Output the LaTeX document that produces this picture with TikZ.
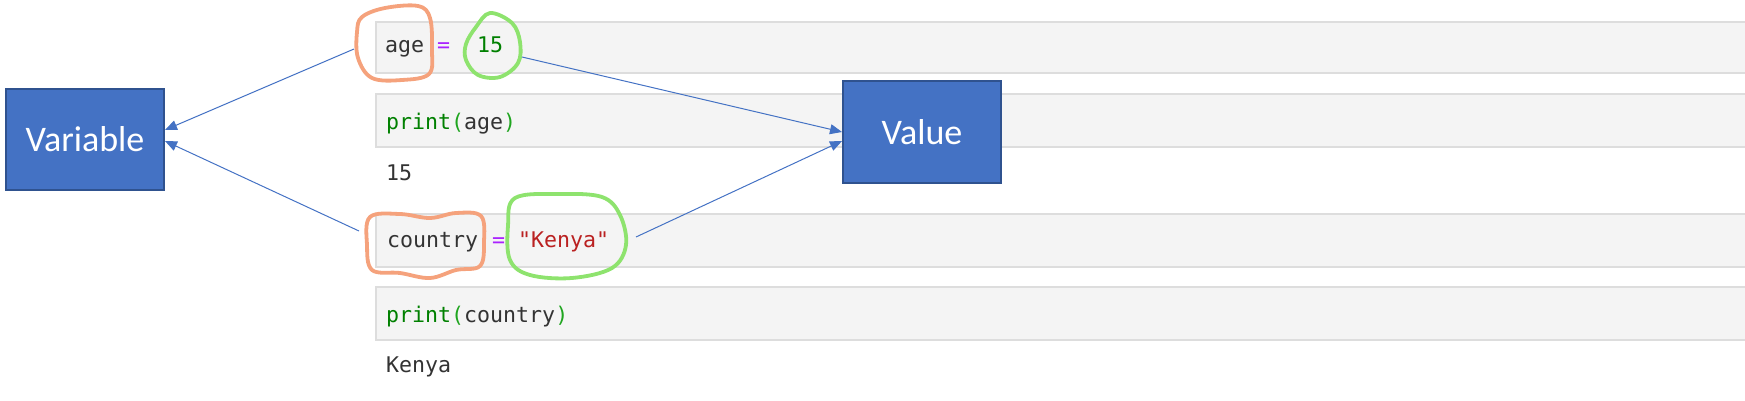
\documentclass[tikz,border=0pt]{standalone}
\usepackage{fontspec}
\setmainfont{Carlito}
\newfontfamily\codefont{DejaVu Sans Mono}
\usetikzlibrary{arrows.meta,calc}
\definecolor{boxfill}{HTML}{4472C4}
\definecolor{boxline}{HTML}{2F528F}
\definecolor{cellfill}{HTML}{F4F4F4}
\definecolor{cellline}{HTML}{DDDDDD}
\definecolor{codetext}{HTML}{333333}
\definecolor{kwgreen}{HTML}{008000}
\definecolor{brgreen}{HTML}{1FA51F}
\definecolor{oppurple}{HTML}{AA22FF}
\definecolor{strred}{HTML}{BA2121}
\definecolor{mkorange}{HTML}{F5A27C}
\definecolor{mkgreen}{HTML}{8EE36E}
\tikzset{
  cellbox/.style={draw=cellline, fill=cellfill, line width=1.5pt},
  code/.style={inner sep=0pt, anchor=base west, text=codetext, font=\codefont\fontsize{21.6}{24}\selectfont},
  bluebox/.style={draw=boxline, fill=boxfill, line width=2pt, text=white,
     minimum width=158pt, minimum height=101pt, inner sep=0pt,
     font=\fontsize{36}{40}\selectfont},
  conn/.style={draw=boxfill, line width=1pt, -{Triangle[length=12pt,width=10pt]}},
  orangemark/.style={draw=mkorange, line width=3.8pt, line join=round},
  greenmark/.style={draw=mkgreen, line width=3.8pt, line join=round}
}
\begin{document}
\begin{tikzpicture}[x=1pt,y=-1pt]
\useasboundingbox (0,0) rectangle (1745,401);
% code cells
\draw[cellbox] (376,22) rectangle (1760,73);
\draw[cellbox] (376,94) rectangle (1760,147);
\draw[cellbox] (376,214) rectangle (1760,267);
\draw[cellbox] (376,287) rectangle (1760,340);
% code text
\node[code] (age) at (385,53) {age};
\node[code, text=oppurple] (eq1) at (437,53) {=};
\node[code, text=kwgreen] (fifteen) at (477,53) {15};
\node[code] (p1) at (386,130) {\textcolor{kwgreen}{print}\textcolor{brgreen}{(}age\textcolor{brgreen}{)}};
\node[code] (out1) at (386,180) {15};
\node[code] (country) at (387,247) {country};
\node[code, text=oppurple] (eq2) at (492,247) {=};
\node[code, text=strred] (kenya) at (518,247) {"Kenya"};
\node[code] (p2) at (386,322) {\textcolor{kwgreen}{print}\textcolor{brgreen}{(}country\textcolor{brgreen}{)}};
\node[code] (out2) at (386,372) {Kenya};
% hand-drawn marks
\draw[orangemark] plot[smooth cycle, tension=0.6] coordinates {(362,17) (385,8) (418,6) (430,18) (432,50) (429,74) (402,80) (372,78) (358,58) (357,32)};
\draw[greenmark] plot[smooth cycle, tension=0.6] coordinates {(490,13) (512,23) (520,42) (518,63) (500,77) (478,75) (466,60) (466,44) (476,27)};
\draw[orangemark] plot[smooth cycle, tension=0.6] coordinates {(370,217) (400,214) (430,218) (456,213) (481,216) (484,242) (480,266) (456,270) (430,278) (400,273) (372,270) (367,245)};
\draw[greenmark] plot[smooth cycle, tension=0.6] coordinates {(515,198) (560,194) (602,197) (620,215) (626,245) (612,268) (572,278) (530,275) (510,260) (508,226)};
% anchors of connectors
\coordinate (ageL) at (354,49);
\coordinate (countryL) at (359,231);
\coordinate (fifteenR) at (522,57);
\coordinate (kenyaR) at (636,237);
% boxes
\node[bluebox] (var) at (85,139.5) {Variable};
\node[bluebox] (val) at (922,132) {Value};
% connectors
\draw[conn] (ageL) -- ($(var.east)+(0,-9.5)$);
\draw[conn] (countryL) -- ($(var.east)+(0,1.5)$);
\draw[conn] (fifteenR) -- ($(val.west)+(0,0)$);
\draw[conn] (kenyaR) -- ($(val.west)+(0,9)$);
\end{tikzpicture}
\end{document}
